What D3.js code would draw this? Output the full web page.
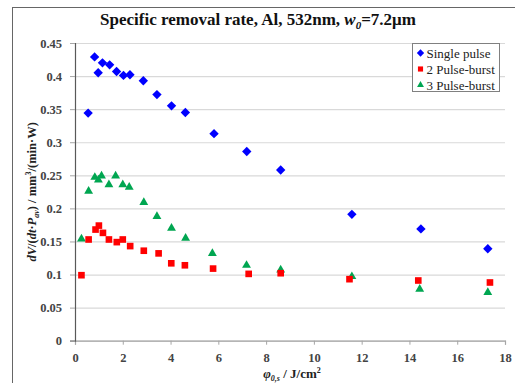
<!DOCTYPE html>
<html>
<head>
<meta charset="utf-8">
<script src="https://cdn.jsdelivr.net/npm/d3@7"></script>
<style>
  body { margin: 0; background: #fff; }
  svg, svg text { font-family: "Liberation Serif", "DejaVu Serif", "Times New Roman", Times, serif; }
</style>
</head>
<body>
<div id="chart"></div>
<script>
const seriesNames = ['Single pulse', '2 Pulse-burst', '3 Pulse-burst'];

const singleX = [0.55, 0.82, 0.97, 1.15, 1.45, 1.74, 2.03, 2.30, 2.86, 3.43, 4.04, 4.62, 5.82, 7.19, 8.61, 11.59, 14.48, 17.28];
const singleY = [0.344, 0.429, 0.405, 0.420, 0.417, 0.407, 0.401, 0.402, 0.393, 0.372, 0.355, 0.345, 0.313, 0.286, 0.258, 0.191, 0.169, 0.139];

const burst2X = [0.27, 0.57, 0.86, 1.00, 1.17, 1.42, 1.75, 2.00, 2.31, 2.88, 3.50, 4.03, 4.60, 5.78, 7.27, 8.61, 11.49, 14.37, 17.37];
const burst2Y = [0.099, 0.153, 0.168, 0.174, 0.163, 0.153, 0.149, 0.153, 0.143, 0.136, 0.132, 0.117, 0.114, 0.109, 0.101, 0.102, 0.093, 0.091, 0.088];

const burst3X = [0.27, 0.57, 0.83, 0.98, 1.11, 1.42, 1.70, 2.00, 2.27, 2.88, 3.43, 4.04, 4.63, 5.75, 7.18, 8.61, 11.59, 14.43, 17.28];
const burst3Y = [0.154, 0.226, 0.247, 0.243, 0.249, 0.236, 0.249, 0.236, 0.232, 0.209, 0.188, 0.170, 0.155, 0.132, 0.114, 0.107, 0.097, 0.078, 0.073];

const xTicks = [0, 2, 4, 6, 8, 10, 12, 14, 16, 18];
const yTicks = [0, 0.05, 0.1, 0.15, 0.2, 0.25, 0.3, 0.35, 0.4, 0.45];

const FONT = '"Liberation Serif", "DejaVu Serif", "Times New Roman", serif';
const W = 515, H = 383;
const margin = { top: 43, right: 10, bottom: 42, left: 75 };
const width = 505 - margin.left;
const height = 340.7 - margin.top;

const svg = d3.select('#chart').append('svg')
  .attr('width', W)
  .attr('height', H)
  .attr('font-family', FONT);

// outer frame
svg.append('rect')
  .attr('x', 12.5).attr('y', 7.5)
  .attr('width', 520).attr('height', 390)
  .attr('fill', 'none')
  .attr('stroke', '#666')
  .attr('stroke-width', 1);

const g = svg.append('g')
  .attr('transform', `translate(${margin.left},${margin.top})`);

const x = d3.scaleLinear().domain([0, 18]).range([0, width]);
const y = d3.scaleLinear().domain([0, 0.45]).range([height, 0]);

// horizontal grid
g.append('g')
  .call(d3.axisLeft(y).tickValues(yTicks).tickSize(-width).tickFormat(() => ''))
  .call(s => s.select('.domain').remove())
  .selectAll('line')
  .attr('stroke', '#d9d9d9')
  .attr('stroke-width', 1.2);

// X axis
const xAxis = g.append('g')
  .attr('transform', `translate(0,${height})`)
  .call(d3.axisBottom(x).tickValues(xTicks).tickSize(4).tickPadding(8).tickFormat(d3.format('d')))
  .attr('font-family', FONT);
xAxis.select('.domain').attr('stroke', '#a6a6a6').attr('stroke-width', 1.2);
xAxis.selectAll('line').attr('stroke', '#a6a6a6');
xAxis.selectAll('text')
  .style('font-family', FONT)
  .style('font-size', '12.5px')
  .style('font-weight', 'bold')
  .style('fill', '#444');

// Y axis
const yAxis = g.append('g')
  .call(d3.axisLeft(y).tickValues(yTicks).tickSize(5).tickPadding(8).tickFormat(d => String(d)))
  .attr('font-family', FONT);
yAxis.select('.domain').attr('stroke', '#595959').attr('stroke-width', 1.2);
yAxis.selectAll('line').attr('stroke', '#a6a6a6');
yAxis.selectAll('text')
  .style('font-family', FONT)
  .style('font-size', '12.5px')
  .style('font-weight', 'bold')
  .style('fill', '#444');

const zip = (xs, ys) => xs.map((v, i) => ({ x: v, y: ys[i] }));

// square diamond (rotated square) rather than d3's tall diamond
const diamondType = {
  draw(ctx, size) {
    const r = Math.sqrt(size / 2);
    ctx.moveTo(0, -r); ctx.lineTo(r, 0); ctx.lineTo(0, r); ctx.lineTo(-r, 0); ctx.closePath();
  }
};

const series = [
  { name: seriesNames[0], data: zip(singleX, singleY), type: diamondType, size: 44, color: '#0000ff' },
  { name: seriesNames[1], data: zip(burst2X, burst2Y), type: d3.symbolSquare, size: 44, color: '#ff0000' },
  { name: seriesNames[2], data: zip(burst3X, burst3Y), type: d3.symbolTriangle, size: 34, color: '#00a651' }
];

// draw in reverse so blue sits on top like the original
[series[2], series[1], series[0]].forEach(s => {
  g.selectAll(null)
    .data(s.data)
    .enter()
    .append('path')
    .attr('d', d3.symbol().type(s.type).size(s.size)())
    .attr('transform', d => `translate(${x(d.x)},${y(d.y)})`)
    .attr('fill', s.color);
});

// legend
const legend = svg.append('g').attr('transform', 'translate(412.5,43.5)');
legend.append('rect')
  .attr('width', 87).attr('height', 48)
  .attr('fill', '#fff')
  .attr('stroke', '#808080');
series.forEach((s, i) => {
  const row = legend.append('g').attr('transform', `translate(0,${9.5 + i * 16})`);
  row.append('path')
    .attr('d', d3.symbol().type(s.type).size(s.size * 0.6)())
    .attr('transform', 'translate(8,0)')
    .attr('fill', s.color);
  row.append('text')
    .attr('x', 14).attr('y', 4.5)
    .style('font-family', FONT)
    .style('font-size', '13px')
    .style('fill', '#222')
    .text(s.name);
});

// title
const title = svg.append('text')
  .attr('x', 258).attr('y', 25)
  .attr('text-anchor', 'middle')
  .style('font-family', FONT)
  .style('font-size', '17px')
  .style('font-weight', 'bold')
  .style('fill', '#111');
title.append('tspan').text('Specific removal rate, Al, 532nm, ');
title.append('tspan').style('font-style', 'italic').text('w');
title.append('tspan').style('font-style', 'italic').style('font-size', '11px').attr('dy', 4).text('0');
title.append('tspan').attr('dy', -4).text('=7.2μm');

// y axis title
const yTitle = svg.append('text')
  .attr('transform', `translate(36,${margin.top + height / 2}) rotate(-90)`)
  .attr('text-anchor', 'middle')
  .style('font-family', FONT)
  .style('font-size', '12.5px')
  .style('font-weight', 'bold')
  .style('fill', '#222');
yTitle.append('tspan').style('font-style', 'italic').text('dV');
yTitle.append('tspan').text('/(');
yTitle.append('tspan').style('font-style', 'italic').text('dt');
yTitle.append('tspan').text('·');
yTitle.append('tspan').style('font-style', 'italic').text('P');
yTitle.append('tspan').style('font-style', 'italic').style('font-size', '8px').attr('dy', 3).text('av');
yTitle.append('tspan').attr('dy', -3).text(') / mm');
yTitle.append('tspan').style('font-size', '8px').attr('dy', -5).text('3');
yTitle.append('tspan').attr('dy', 5).text('/(min·W)');

// x axis title
const xTitle = svg.append('text')
  .attr('x', 292).attr('y', 378)
  .attr('text-anchor', 'middle')
  .style('font-family', FONT)
  .style('font-size', '13px')
  .style('font-weight', 'bold')
  .style('fill', '#222');
xTitle.append('tspan').style('font-style', 'italic').text('φ');
xTitle.append('tspan').style('font-style', 'italic').style('font-size', '8px').attr('dy', 3).text('0,s');
xTitle.append('tspan').attr('dy', -3).text(' / J/cm');
xTitle.append('tspan').style('font-size', '8px').attr('dy', -5).text('2');
</script>
</body>
</html>
